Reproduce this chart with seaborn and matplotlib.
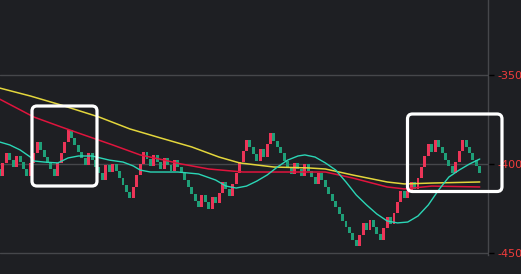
import matplotlib
matplotlib.use("Agg")
import matplotlib.pyplot as plt
import numpy as np
import pandas as pd
import seaborn as sns
from matplotlib.patches import FancyBboxPatch

# ---------------- data ----------------
first_open = -4028
closes = [
    -4067, -3994, -3938, -3978, -4017, -3955, -3989, -4028, -4067, -3994,
    -3938, -3876, -3921, -3961, -3994, -4028, -4067, -3994, -3938, -3876,
    -3809, -3854, -3893, -3933, -3966, -4006, -3938, -3978, -4017, -4051,
    -4090, -4006, -4045, -4000, -4039, -4079, -4118, -4157, -4191, -4129,
    -4062, -4000, -3933, -3972, -4011, -3949, -3989, -4028, -3966, -4006,
    -4039, -3978, -4017, -4051, -4090, -4129, -4169, -4208, -4242, -4174,
    -4213, -4253, -4185, -4219, -4163, -4101, -4140, -4180, -4112, -4051,
    -3989, -3927, -3865, -3904, -3944, -3983, -3916, -3961, -3888, -3826,
    -3871, -3904, -3938, -3983, -4017, -4056, -3994, -4028, -4067, -4000,
    -4039, -4073, -4112, -4051, -4090, -4129, -4169, -4208, -4242, -4281,
    -4320, -4354, -4388, -4427, -4461, -4399, -4331, -4371, -4315, -4354,
    -4393, -4427, -4360, -4298, -4337, -4275, -4213, -4152, -4191, -4152,
    -4101, -4140, -4079, -4017, -3955, -3888, -3933, -3865, -3904, -3938,
    -3978, -4011, -4051, -3989, -3927, -3865, -3904, -3938, -3978, -4011,
    -4051,
]

ma_fast_idx = [0, 3, 6, 9, 10, 13, 17, 20, 23, 27, 32, 36, 39, 41, 44, 52, 58,
               63, 66, 69, 72, 75, 78, 81, 84, 87, 89, 92, 95, 98, 101, 104,
               107, 110, 113, 116, 119, 122, 125, 128, 131, 134, 137, 140]
ma_fast_val = [-3876, -3893, -3921, -3961, -3983, -3989, -3994, -3966, -3955,
               -3955, -3978, -3989, -4011, -4034, -4045, -4045, -4056, -4090,
               -4124, -4135, -4124, -4096, -4062, -4017, -3978, -3955, -3949,
               -3961, -3994, -4034, -4101, -4174, -4230, -4281, -4320, -4331,
               -4326, -4292, -4230, -4146, -4073, -4034, -4000, -3972]

ma_mid_idx = [0, 10, 18, 23, 33, 41, 48, 53, 61, 71, 80, 95, 103, 113, 118, 126, 140]
ma_mid_val = [-3635, -3736, -3792, -3826, -3893, -3949, -3978, -4000, -4028,
              -4045, -4045, -4045, -4079, -4129, -4140, -4124, -4129]

ma_slow_idx = [0, 9, 18, 29, 38, 47, 56, 64, 70, 80, 90, 95, 103, 113, 118, 126, 140]
ma_slow_val = [-3573, -3618, -3669, -3736, -3803, -3854, -3904, -3961, -3994,
               -4017, -4022, -4028, -4062, -4101, -4112, -4107, -4101]

y_ticks = [-4500, -4000, -3500]
y_tick_labels = ["-4500", "-4000", "-3500"]

# ---------------- style ----------------
BG = "#1e1f23"
GRID = "#46474b"
UP = "#ec3558"
DOWN = "#1f9f78"
sns.set_style("dark", {"axes.facecolor": BG, "figure.facecolor": BG})
plt.rcParams["font.family"] = ["DejaVu Sans"]
plt.rcParams["axes.unicode_minus"] = False

W, H = 521, 274
fig = plt.figure(figsize=(W / 100, H / 100), dpi=100, facecolor=BG)
ax = fig.add_axes([0, 1 - 255 / H, 488 / W, 255 / H])
ax.set_facecolor(BG)

df = pd.DataFrame({"i": np.arange(len(closes)), "close": closes})
df["open"] = [first_open] + closes[:-1]
colors = np.where(df["close"] > df["open"], UP, DOWN)
ax.bar(df["i"], df["close"] - df["open"], bottom=df["open"], width=0.86,
       color=colors, linewidth=0, zorder=2)

sns.lineplot(x=ma_slow_idx, y=ma_slow_val, ax=ax, color="#e3d63c", linewidth=1.1, zorder=3)
sns.lineplot(x=ma_mid_idx, y=ma_mid_val, ax=ax, color="#e0143d", linewidth=1.1, zorder=3)
sns.lineplot(x=ma_fast_idx, y=ma_fast_val, ax=ax, color="#2bd6b6", linewidth=1.0, zorder=4)

ax.set_xlim(0.146, 142.4)
ax.set_ylim(-4511.2, -3078.7)
ax.set_xticks([])
ax.set_xlabel("")
ax.set_ylabel("")
ax.set_yticks(y_ticks)
ax.set_yticklabels(y_tick_labels)
ax.yaxis.tick_right()
ax.tick_params(axis="y", which="both", right=True, left=False, labelright=True,
               labelleft=False, length=4, width=1, color="#000000",
               labelcolor="#f23c3c", labelsize=8, pad=2.5)
ax.yaxis.grid(True, color=GRID, linewidth=1.0, zorder=0)
ax.xaxis.grid(False)
for s in ["top", "left", "bottom"]:
    ax.spines[s].set_visible(False)
ax.spines["right"].set_visible(True)
ax.spines["right"].set_color(GRID)
ax.spines["right"].set_linewidth(1.0)

# white highlight boxes (pixel positions converted to inches)
def box(x0, y0, x1, y1):
    p = FancyBboxPatch(((x0) / 100, (H - y1) / 100), (x1 - x0) / 100, (y1 - y0) / 100,
                       boxstyle="round,pad=0,rounding_size=0.05",
                       transform=fig.dpi_scale_trans, fill=False,
                       edgecolor="white", linewidth=2.3, zorder=10, clip_on=False)
    fig.add_artist(p)

box(32, 106, 97, 186)
box(407.5, 114, 502, 191.5)

fig.savefig("out.png", dpi=100, facecolor=BG)
